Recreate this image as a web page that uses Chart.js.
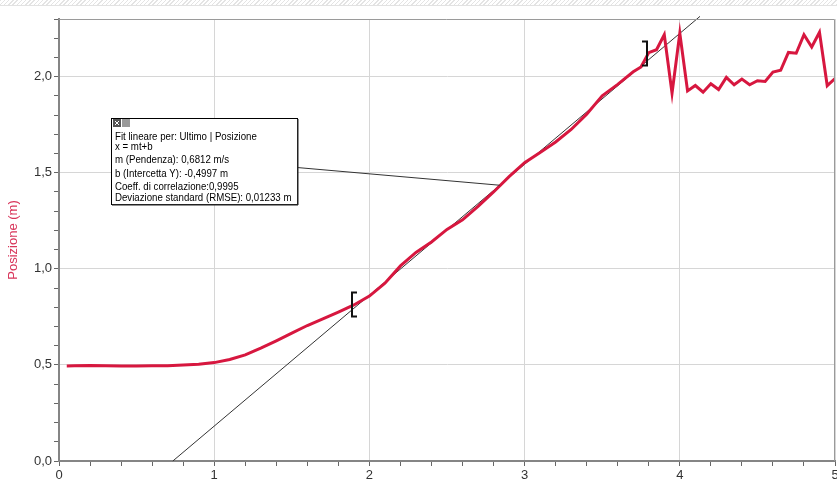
<!DOCTYPE html>
<html>
<head>
<meta charset="utf-8">
<script src="https://cdn.jsdelivr.net/npm/chart.js@4.4.0/dist/chart.umd.min.js"></script>
<style>
html, body { margin: 0; padding: 0; background: #fff; }
#wrap { position: relative; width: 837px; height: 483px; }
#strip { position: absolute; left: 0; top: 0; width: 837px; height: 5px;
  background: repeating-linear-gradient(135deg, #e4e4e4 0 1px, #fff 1px 3px);
  border-bottom: 1px solid #e2e2e2; }
</style>
</head>
<body>
<div id="wrap">
  <canvas id="myChart" width="837" height="483"></canvas>
  <div id="strip"></div>
</div>
<script>
// tempo (s) / posizione (m)
const tempo = [0.05, 0.10, 0.20, 0.30, 0.40, 0.50, 0.60, 0.70, 0.80, 0.90,
  1.00, 1.10, 1.20, 1.30, 1.40, 1.50, 1.60, 1.70, 1.80, 1.90,
  2.00, 2.10, 2.20, 2.30, 2.40, 2.50, 2.60, 2.70, 2.80, 2.90,
  3.00, 3.10, 3.20, 3.30, 3.40, 3.50, 3.60, 3.70, 3.75, 3.80,
  3.85, 3.90, 3.95, 4.00, 4.05, 4.10, 4.15, 4.20, 4.25, 4.30,
  4.35, 4.40, 4.45, 4.50, 4.55, 4.60, 4.65, 4.70, 4.75, 4.80,
  4.85, 4.90, 4.95, 5.00];
const posizione = [0.494, 0.495, 0.497, 0.496, 0.494, 0.494, 0.495, 0.496, 0.499, 0.503,
  0.512, 0.528, 0.552, 0.587, 0.625, 0.665, 0.705, 0.740, 0.775, 0.812,
  0.858, 0.925, 1.015, 1.085, 1.140, 1.205, 1.255, 1.325, 1.400, 1.480,
  1.552, 1.605, 1.660, 1.725, 1.805, 1.900, 1.960, 2.025, 2.050, 2.125,
  2.140, 2.218, 1.914, 2.226, 1.926, 1.954, 1.919, 1.963, 1.933, 1.996,
  1.958, 1.987, 1.958, 1.979, 1.975, 2.024, 2.033, 2.126, 2.122, 2.218,
  2.154, 2.231, 1.953, 1.990];

// linear fit from the box
const fitM = 0.6812;
const fitB = -0.4997;
const fitRange = [0.7336, 4.13];
const bracketT = [1.89, 3.79];
const bracketPos = [0.815, 2.12];
const annotT = 2.84;

const xTickLabels = ['0', '1', '2', '3', '4', '5'];
const yTickLabels = ['0,0', '0,5', '1,0', '1,5', '2,0'];
const fitText = [
  'Fit lineare per: Ultimo | Posizione',
  'x = mt+b',
  'm (Pendenza): 0,6812 m/s',
  'b (Intercetta Y): -0,4997 m',
  'Coeff. di correlazione:0,9995',
  'Deviazione standard (RMSE): 0,01233 m'
];

const curve = tempo.map((t, i) => ({ x: t, y: posizione[i] }));
const fitLine = fitRange.map(t => ({ x: t, y: fitM * t + fitB }));

function isMult(v, step) {
  const q = v / step;
  return Math.abs(q - Math.round(q)) < 1e-6;
}

const extras = {
  id: 'extras',
  afterDatasetsDraw(chart) {
    const c = chart.ctx, a = chart.chartArea;
    const xs = chart.scales.x, ys = chart.scales.y;
    c.save();
    // frame top/right
    c.strokeStyle = '#9a9a9a';
    c.lineWidth = 1;
    c.beginPath();
    c.moveTo(a.left, a.top + 0.5);
    c.lineTo(a.right - 0.5, a.top + 0.5);
    c.lineTo(a.right - 0.5, a.bottom);
    c.stroke();

    // brackets of fit range
    c.strokeStyle = '#111';
    c.lineWidth = 2;
    bracketT.forEach((t, i) => {
      const px = Math.round(xs.getPixelForValue(t));
      const py = ys.getPixelForValue(bracketPos[i]);
      const dir = i === 0 ? 1 : -1;
      c.beginPath();
      c.moveTo(px + dir * 5, py - 12);
      c.lineTo(px, py - 12);
      c.lineTo(px, py + 12);
      c.lineTo(px + dir * 5, py + 12);
      c.stroke();
    });

    // box
    const bx = 111, by = 118, bw = 186, bh = 86;
    c.strokeStyle = '#333';
    c.lineWidth = 1;
    c.beginPath();
    c.moveTo(bx + bw, by + 49.5);
    c.lineTo(xs.getPixelForValue(annotT), ys.getPixelForValue(fitM * annotT + fitB));
    c.stroke();

    c.fillStyle = '#fff';
    c.fillRect(bx, by, bw, bh);
    c.strokeStyle = '#000';
    c.strokeRect(bx + 0.5, by + 0.5, bw, bh);
    c.fillStyle = '#222';
    c.fillRect(bx + bw, by + 1, 1.5, bh);
    c.fillRect(bx + 1, by + bh, bw, 1.5);
    // little icons
    c.fillStyle = '#555';
    c.fillRect(bx + 2, by + 1, 8, 8);
    c.fillStyle = '#999';
    c.fillRect(bx + 11, by + 1, 8, 8);
    c.strokeStyle = '#fff';
    c.beginPath();
    c.moveTo(bx + 4, by + 3); c.lineTo(bx + 8, by + 7);
    c.moveTo(bx + 8, by + 3); c.lineTo(bx + 4, by + 7);
    c.stroke();

    c.fillStyle = '#000';
    c.font = '11px "Liberation Sans", Arial, sans-serif';
    c.textBaseline = 'middle';
    const lineY = [137, 147, 160, 174, 187, 198];
    fitText.forEach((s, i) => {
      c.save();
      c.translate(bx + 4, lineY[i]);
      c.scale(0.88, 1);
      c.fillText(s, 0, 0);
      c.restore();
    });
    c.restore();
  }
};

const ctx = document.getElementById('myChart').getContext('2d');
const myChart = new Chart(ctx, {
  type: 'scatter',
  data: {
    datasets: [{
      label: 'Fit',
      data: fitLine,
      showLine: true,
      borderColor: '#333',
      borderWidth: 1,
      pointRadius: 0,
      clip: false,
      order: 2
    }, {
      label: 'Posizione',
      data: curve,
      showLine: true,
      borderColor: '#d7173f',
      borderWidth: 3,
      pointRadius: 0,
      tension: 0,
      order: 1
    }]
  },
  plugins: [extras],
  options: {
    responsive: false,
    animation: false,
    layout: { padding: { top: 19, right: 2, left: 0, bottom: 0 } },
    plugins: { legend: { display: false }, tooltip: { enabled: false } },
    scales: {
      x: {
        type: 'linear',
        min: 0, max: 5,
        afterFit(scale) { scale.height = 22; scale.paddingRight = 0; scale.paddingLeft = 0; },
        ticks: {
          stepSize: 0.2,
          autoSkip: false,
          maxRotation: 0,
          padding: 2,
          color: '#333',
          font: { family: '"Liberation Sans", Arial, sans-serif', size: 13 },
          callback: v => isMult(v, 1) ? xTickLabels[Math.round(v)] : ''
        },
        grid: {
          color: c => (c.tick && isMult(c.tick.value, 1)) ? '#d6d6d6' : 'rgba(0,0,0,0)',
          tickColor: '#666',
          tickLength: 5
        },
        border: { color: '#858585', width: 2 }
      },
      y: {
        type: 'linear',
        min: 0, max: 2.3,
        afterFit(scale) { scale.width = 59; scale.paddingTop = 0; },
        title: {
          display: true,
          text: 'Posizione (m)',
          color: '#d8355a',
          font: { family: '"Liberation Sans", Arial, sans-serif', size: 13 },
          padding: { top: 6, bottom: 0 }
        },
        ticks: {
          stepSize: 0.1,
          autoSkip: false,
          padding: 2,
          color: '#333',
          font: { family: '"Liberation Sans", Arial, sans-serif', size: 13 },
          callback: v => isMult(v, 0.5) ? yTickLabels[Math.round(v * 2)] : ''
        },
        grid: {
          color: c => (c.tick && isMult(c.tick.value, 0.5)) ? '#d6d6d6' : 'rgba(0,0,0,0)',
          tickColor: '#666',
          tickLength: 5
        },
        border: { color: '#858585', width: 2 }
      }
    }
  }
});
</script>
</body>
</html>
